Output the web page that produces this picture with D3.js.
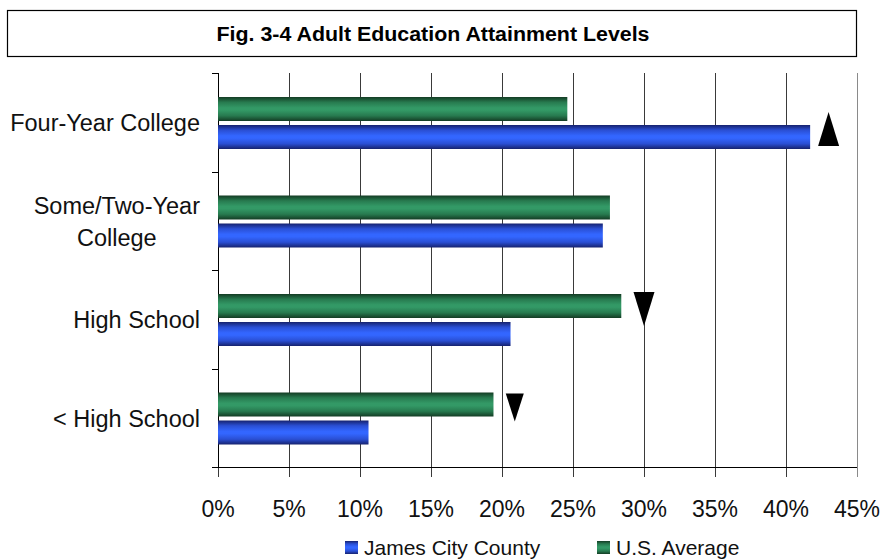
<!DOCTYPE html>
<html>
<head>
<meta charset="utf-8">
<script src="https://cdn.jsdelivr.net/npm/d3@7/dist/d3.min.js"></script>
<style>
  html, body { margin: 0; padding: 0; background: #fff; }
  svg { display: block; font-family: "Liberation Sans", Arial, sans-serif; }
</style>
</head>
<body>
<svg id="chart" width="882" height="559"></svg>
<script>
// ---- data ----
const title = "Fig. 3-4 Adult Education Attainment Levels";
const categories = ["Four-Year College", "Some/Two-Year College", "High School", "< High School"];
const categoryLines = [["Four-Year College"], ["Some/Two-Year", "College"], ["High School"], ["< High School"]];
const seriesNames = ["James City County", "U.S. Average"];
const jamesCity = [41.7, 27.1, 20.6, 10.6];
const usAverage = [24.6, 27.6, 28.4, 19.4];
const tickValues = [0, 5, 10, 15, 20, 25, 30, 35, 40, 45];
const tickLabels = ["0%", "5%", "10%", "15%", "20%", "25%", "30%", "35%", "40%", "45%"];
const arrowCategories = ["Four-Year College", "High School", "< High School"];
const arrowDirections = ["up", "down", "down"];
const arrowValues = [43.0, 30.0, 20.9];

// ---- layout ----
const svg = d3.select("#chart");
const plot = { left: 218, right: 857, top: 73, bottom: 467 };

const x = d3.scaleLinear().domain([0, 45]).range([plot.left, plot.right]);
const y = d3.scaleBand().domain(categories).range([plot.top, plot.bottom]).padding(0);
const inner = d3.scaleBand().domain(["U.S. Average", "James City County"])
  .range([24, 76]).paddingInner(4 / 28).paddingOuter(0);

// gradients
const defs = svg.append("defs");
function grad(id, dark, mid, bright) {
  const g = defs.append("linearGradient").attr("id", id)
    .attr("x1", 0).attr("y1", 0).attr("x2", 0).attr("y2", 1);
  [[0, dark], [0.22, mid], [0.45, bright], [0.55, bright], [0.78, mid], [1, dark]]
    .forEach(([o, c]) => g.append("stop").attr("offset", o).attr("stop-color", c));
}
grad("gBlue", "#16226e", "#2a4fd4", "#3366ff");
grad("gGreen", "#143c24", "#277a4f", "#339966");
const fills = { "James City County": "url(#gBlue)", "U.S. Average": "url(#gGreen)" };

// title box
svg.append("rect").attr("x", 7.5).attr("y", 10.5).attr("width", 849).attr("height", 46)
  .attr("fill", "#fff").attr("stroke", "#000").attr("stroke-width", 1.2);
svg.append("text").attr("x", 433).attr("y", 41)
  .attr("text-anchor", "middle").attr("font-weight", "bold").attr("font-size", 20)
  .attr("textLength", 433).attr("lengthAdjust", "spacingAndGlyphs")
  .text(title);

// gridlines (with ticks extending below axis)
svg.append("g").selectAll("line").data(tickValues).join("line")
  .attr("x1", d => Math.round(x(d)) + 0.5).attr("x2", d => Math.round(x(d)) + 0.5)
  .attr("y1", plot.top).attr("y2", plot.bottom + 10)
  .attr("stroke", d => d === 45 ? "#8a8a8a" : "#3a3a3a").attr("stroke-width", 1);

// left axis line + ticks
svg.append("line").attr("x1", plot.left + 0.5).attr("x2", plot.left + 0.5)
  .attr("y1", plot.top).attr("y2", plot.bottom).attr("stroke", "#000");
const bounds = categories.map(c => y(c)).concat([plot.bottom]);
svg.append("g").selectAll("line").data(bounds).join("line")
  .attr("x1", plot.left - 6).attr("x2", plot.left)
  .attr("y1", d => Math.round(d) + 0.5).attr("y2", d => Math.round(d) + 0.5)
  .attr("stroke", "#000");
// bottom axis
svg.append("line").attr("x1", plot.left - 6).attr("x2", plot.right)
  .attr("y1", plot.bottom + 0.5).attr("y2", plot.bottom + 0.5).attr("stroke", "#000");

// tick labels
svg.append("g").selectAll("text").data(tickValues).join("text")
  .attr("x", d => x(d)).attr("y", 517)
  .attr("text-anchor", "middle").attr("font-size", 23).attr("fill", "#111")
  .text((d, i) => tickLabels[i]);

// category labels
categories.forEach((c, i) => {
  const lines = categoryLines[i];
  const cy = y(c) + y.bandwidth() / 2 + 9;
  const g = svg.append("g");
  const texts = lines.map((l, j) => g.append("text")
    .attr("y", cy + (j - (lines.length - 1) / 2) * 32)
    .attr("font-size", 23.5).attr("fill", "#111").text(l));
  const maxW = d3.max(texts, t => t.node().getComputedTextLength());
  texts.forEach(t => t.attr("text-anchor", "middle").attr("x", 200 - maxW / 2));
});

// bars
const rows = categories.map((c, i) => ({ c, "James City County": jamesCity[i], "U.S. Average": usAverage[i] }));
const barG = svg.append("g");
rows.forEach(r => {
  ["U.S. Average", "James City County"].forEach(s => {
    barG.append("rect")
      .attr("x", x(0)).attr("y", y(r.c) + inner(s))
      .attr("width", x(r[s]) - x(0)).attr("height", inner.bandwidth())
      .attr("fill", fills[s]);
  });
});

// arrows
arrowCategories.forEach((c, i) => {
  const cx = x(arrowValues[i]);
  const small = c === "< High School";
  const w = small ? 18 : 21, h = small ? 28 : 34;
  let top, pts;
  if (arrowDirections[i] === "up") {
    top = y(c) + 39;
    pts = [[cx, top], [cx + w / 2, top + h], [cx - w / 2, top + h]];
  } else {
    top = small ? y(c) + 25 : y(c) + 22;
    pts = [[cx - w / 2, top], [cx + w / 2, top], [cx, top + h]];
  }
  svg.append("polygon").attr("points", pts.map(p => p.join(",")).join(" ")).attr("fill", "#000");
});

// legend
const legendX = [345, 597];
const legendNames = ["James City County", "U.S. Average"];
legendNames.forEach((n, i) => {
  svg.append("rect").attr("x", legendX[i]).attr("y", 541).attr("width", 13).attr("height", 13)
    .attr("fill", fills[n]);
  svg.append("text").attr("x", legendX[i] + 19).attr("y", 555)
    .attr("font-size", 21).attr("fill", "#111").text(n);
});
</script>
</body>
</html>
